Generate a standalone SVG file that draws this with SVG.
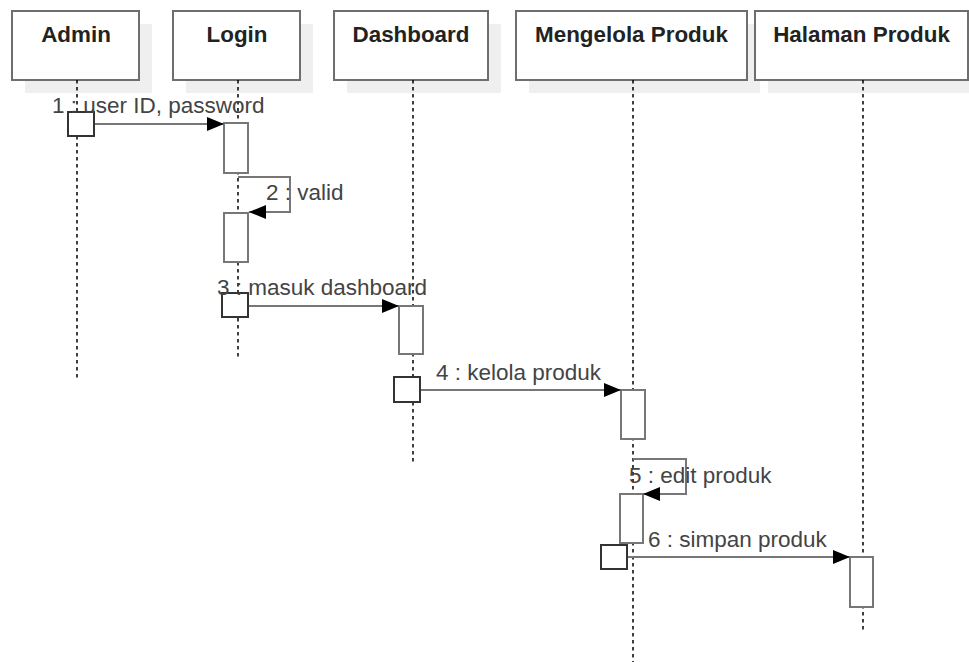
<svg xmlns="http://www.w3.org/2000/svg" width="969" height="662" viewBox="0 0 969 662">
  <style>
    .shadow { fill: #efefef; stroke: none; }
    .head { fill: #ffffff; stroke: #6e6e6e; stroke-width: 2; }
    .head-text { font-family: "Liberation Sans", Arial, sans-serif; font-size: 22.4px; font-weight: bold; fill: #222; text-anchor: middle; }
    .life { stroke: #000; stroke-width: 1.5; stroke-dasharray: 3.5 3.5; fill: none; }
    .act { fill: #ffffff; stroke: #777; stroke-width: 2; }
    .start { fill: #ffffff; stroke: #333; stroke-width: 2; }
    .msg { stroke: #777; stroke-width: 2; fill: none; marker-end: url(#arrow); }
    .label { font-family: "Liberation Sans", Arial, sans-serif; font-size: 22.5px; fill: #444; }
  </style>
  <defs>
    <marker id="arrow" markerWidth="17" markerHeight="14" refX="17" refY="7" orient="auto" markerUnits="userSpaceOnUse">
      <path d="M0,0 L17,7 L0,14 Z" fill="#000"/>
    </marker>
  </defs>
  <rect width="969" height="662" fill="#ffffff"/>

  <!-- lifeline headers with drop shadows -->
  <g id="admin">
    <rect class="shadow" x="25" y="24" width="127" height="69"/>
    <rect class="head" x="12" y="11" width="127" height="69"/>
    <text class="head-text" x="76" y="42">Admin</text>
    <line class="life" x1="77" y1="80" x2="77" y2="380"/>
  </g>
  <g id="login">
    <rect class="shadow" x="186" y="24" width="127" height="69"/>
    <rect class="head" x="173" y="11" width="127" height="69"/>
    <text class="head-text" x="237" y="42">Login</text>
    <line class="life" x1="238" y1="80" x2="238" y2="360"/>
  </g>
  <g id="dashboard">
    <rect class="shadow" x="347" y="24" width="154" height="69"/>
    <rect class="head" x="334" y="11" width="154" height="69"/>
    <text class="head-text" x="411" y="42">Dashboard</text>
    <line class="life" x1="413" y1="80" x2="413" y2="463"/>
  </g>
  <g id="mengelola-produk">
    <rect class="shadow" x="529" y="24" width="231" height="69"/>
    <rect class="head" x="516" y="11" width="231" height="69"/>
    <text class="head-text" x="631.5" y="42">Mengelola Produk</text>
    <line class="life" x1="633" y1="80" x2="633" y2="662"/>
  </g>
  <g id="halaman-produk">
    <rect class="shadow" x="768" y="24" width="213" height="69"/>
    <rect class="head" x="755" y="11" width="213" height="69"/>
    <text class="head-text" x="861.5" y="42">Halaman Produk</text>
    <line class="life" x1="863" y1="80" x2="863" y2="631"/>
  </g>

  <!-- activation bars -->
  <g id="activations">
    <rect class="act" x="224" y="123" width="24" height="50"/>
    <rect class="act" x="224" y="213" width="24" height="49"/>
    <rect class="act" x="399" y="306" width="24" height="48"/>
    <rect class="act" x="621" y="390" width="24" height="49"/>
    <rect class="act" x="620" y="494" width="23" height="49"/>
    <rect class="act" x="850" y="557" width="23" height="50"/>
  </g>

  <!-- messages -->
  <g id="connectors">
    <line class="msg" x1="94" y1="124" x2="224" y2="124"/>
    <polyline class="msg" points="238,177 290,177 290,212 249,212"/>
    <line class="msg" x1="248" y1="306" x2="399" y2="306"/>
    <line class="msg" x1="420" y1="390" x2="621" y2="390"/>
    <polyline class="msg" points="633,459 686,459 686,494 643,494"/>
    <line class="msg" x1="627" y1="557" x2="850" y2="557"/>
  </g>

  <!-- message start points -->
  <g id="starts">
    <rect class="start" x="68" y="112" width="26" height="24"/>
    <rect class="start" x="222" y="293" width="26" height="24"/>
    <rect class="start" x="394" y="377" width="26" height="25"/>
    <rect class="start" x="601" y="545" width="26" height="24"/>
  </g>

  <!-- message labels -->
  <g id="labels">
    <text class="label" x="52" y="113">1 : user ID, password</text>
    <text class="label" x="266" y="200">2 : valid</text>
    <text class="label" x="217" y="295">3 : masuk dashboard</text>
    <text class="label" x="436" y="380">4 : kelola produk</text>
    <text class="label" x="629" y="483">5 : edit produk</text>
    <text class="label" x="648" y="547">6 : simpan produk</text>
  </g>
</svg>
